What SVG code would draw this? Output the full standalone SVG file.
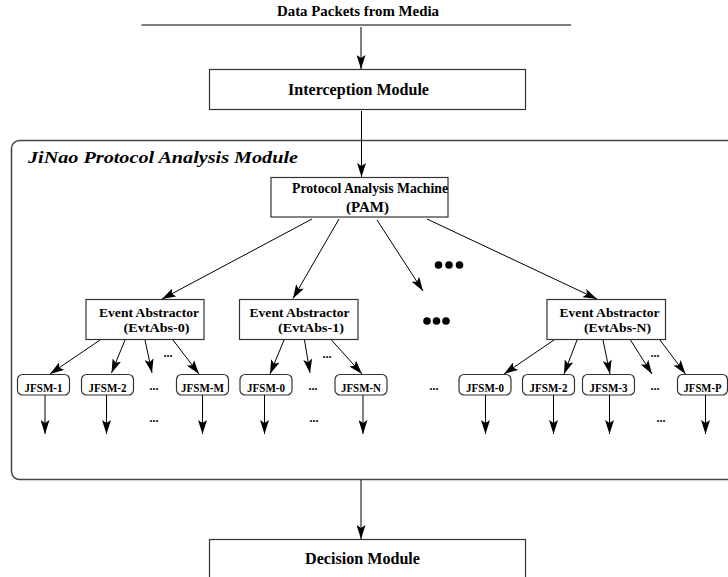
<svg xmlns="http://www.w3.org/2000/svg" width="728" height="577" viewBox="0 0 728 577">
<defs>
<marker id="ah" markerUnits="userSpaceOnUse" markerWidth="15" markerHeight="9" refX="14" refY="4.5" orient="auto">
<path d="M0,0 L14,4.5 L0,9 L3,4.5 z" fill="#000"/>
</marker>
<style>
text{font-family:"Liberation Serif","Times New Roman",serif;font-weight:bold;fill:#000}
.box{fill:#fff;stroke:#333;stroke-width:1.2}
.j{fill:#fff;stroke:#333;stroke-width:1.2}
.ar{stroke:#000;stroke-width:1;fill:none;marker-end:url(#ah)}
.t16{font-size:16px}
.t14{font-size:14px}
.t13{font-size:13px}
.t12{font-size:12px}
.dot{fill:#000}
</style>
</defs>
<rect width="728" height="577" fill="#fff"/>

<g id="outer">
<rect x="11.5" y="140.5" width="730" height="339" rx="8" fill="none" stroke="#444" stroke-width="1.5"/>
<text x="28" y="163" font-size="17" font-style="italic" textLength="270" lengthAdjust="spacingAndGlyphs">JiNao Protocol Analysis Module</text>
</g>

<g id="media">
<text x="358" y="16" text-anchor="middle" font-size="14" textLength="162" lengthAdjust="spacingAndGlyphs">Data Packets from Media</text>
<line x1="141.5" y1="25" x2="571" y2="25" stroke="#000" stroke-width="1"/>
</g>

<g id="interception">
<rect class="box" x="209.5" y="69.5" width="316" height="40"/>
<text x="358.5" y="95" text-anchor="middle" class="t16" textLength="141" lengthAdjust="spacingAndGlyphs">Interception Module</text>
</g>

<g id="pam">
<rect class="box" x="271" y="177.5" width="177" height="39.5"/>
<text x="292" y="193" class="t14" textLength="156" lengthAdjust="spacingAndGlyphs">Protocol Analysis Machine</text>
<text x="346" y="212" class="t14" textLength="43" lengthAdjust="spacingAndGlyphs">(PAM)</text>
</g>

<g id="ea0">
<rect class="box" x="86" y="299.5" width="118" height="40"/>
<text x="99" y="316.5" class="t13" textLength="100" lengthAdjust="spacingAndGlyphs">Event Abstractor</text>
<text x="123.5" y="332" class="t13" textLength="66" lengthAdjust="spacingAndGlyphs">(EvtAbs-0)</text>
</g>
<g id="ea1">
<rect class="box" x="239.5" y="299.5" width="118.5" height="40"/>
<text x="249.5" y="316.5" class="t13" textLength="100" lengthAdjust="spacingAndGlyphs">Event Abstractor</text>
<text x="278" y="332" class="t13" textLength="66" lengthAdjust="spacingAndGlyphs">(EvtAbs-1)</text>
</g>
<g id="eaN">
<rect class="box" x="547" y="299.5" width="118.5" height="40"/>
<text x="559.5" y="316.5" class="t13" textLength="100" lengthAdjust="spacingAndGlyphs">Event Abstractor</text>
<text x="584" y="332" class="t13" textLength="67" lengthAdjust="spacingAndGlyphs">(EvtAbs-N)</text>
</g>

<g id="dots">
<circle class="dot" cx="438.5" cy="265" r="3.8"/>
<circle class="dot" cx="449" cy="265" r="3.8"/>
<circle class="dot" cx="459.5" cy="265" r="3.8"/>
<circle class="dot" cx="427" cy="321" r="3.8"/>
<circle class="dot" cx="436.5" cy="321" r="3.8"/>
<circle class="dot" cx="446" cy="321" r="3.8"/>
</g>

<g id="jfsm-1"><rect class="j" x="17.5" y="374.5" width="52" height="20.5" rx="5"/><text x="43.5" y="392" text-anchor="middle" class="t12" textLength="38" lengthAdjust="spacingAndGlyphs">JFSM-1</text></g>
<g id="jfsm-2"><rect class="j" x="81.5" y="374.5" width="52" height="20.5" rx="5"/><text x="107.5" y="392" text-anchor="middle" class="t12" textLength="38" lengthAdjust="spacingAndGlyphs">JFSM-2</text></g>
<g id="jfsm-M"><rect class="j" x="176.5" y="374.5" width="52" height="20.5" rx="5"/><text x="202.5" y="392" text-anchor="middle" class="t12" textLength="43" lengthAdjust="spacingAndGlyphs">JFSM-M</text></g>
<g id="jfsm-0a"><rect class="j" x="240" y="374.5" width="52" height="20.5" rx="5"/><text x="266" y="392" text-anchor="middle" class="t12" textLength="38" lengthAdjust="spacingAndGlyphs">JFSM-0</text></g>
<g id="jfsm-N"><rect class="j" x="335" y="374.5" width="52" height="20.5" rx="5"/><text x="361" y="392" text-anchor="middle" class="t12" textLength="40" lengthAdjust="spacingAndGlyphs">JFSM-N</text></g>
<g id="jfsm-0b"><rect class="j" x="459" y="374.5" width="52" height="20.5" rx="5"/><text x="485" y="392" text-anchor="middle" class="t12" textLength="38" lengthAdjust="spacingAndGlyphs">JFSM-0</text></g>
<g id="jfsm-2b"><rect class="j" x="522.5" y="374.5" width="52" height="20.5" rx="5"/><text x="548.5" y="392" text-anchor="middle" class="t12" textLength="38" lengthAdjust="spacingAndGlyphs">JFSM-2</text></g>
<g id="jfsm-3"><rect class="j" x="582.5" y="374.5" width="52" height="20.5" rx="5"/><text x="608.5" y="392" text-anchor="middle" class="t12" textLength="38" lengthAdjust="spacingAndGlyphs">JFSM-3</text></g>
<g id="jfsm-P"><rect class="j" x="677.5" y="374.5" width="50" height="20.5" rx="5"/><text x="702.5" y="392" text-anchor="middle" class="t12" textLength="38" lengthAdjust="spacingAndGlyphs">JFSM-P</text></g>

<g id="ellipses">
<text x="168" y="357" text-anchor="middle" class="t12">...</text>
<text x="327" y="358" text-anchor="middle" class="t12">...</text>
<text x="655" y="357" text-anchor="middle" class="t12">...</text>
<text x="154" y="390" text-anchor="middle" class="t12">...</text>
<text x="313" y="390" text-anchor="middle" class="t12">...</text>
<text x="434" y="390" text-anchor="middle" class="t12">...</text>
<text x="655" y="390" text-anchor="middle" class="t12">...</text>
<text x="154" y="422" text-anchor="middle" class="t12">...</text>
<text x="314" y="422" text-anchor="middle" class="t12">...</text>
<text x="661" y="422" text-anchor="middle" class="t12">...</text>
</g>

<g id="decision">
<rect class="box" x="209.5" y="539.5" width="316" height="45"/>
<text x="362.5" y="564" text-anchor="middle" class="t16" textLength="115" lengthAdjust="spacingAndGlyphs">Decision Module</text>
</g>

<g id="connectors">
<line class="ar" x1="361" y1="27" x2="361" y2="69"/>
<line class="ar" x1="361.5" y1="111" x2="361.5" y2="177"/>
<line class="ar" x1="312" y1="219" x2="162" y2="299"/>
<line class="ar" x1="339" y1="219" x2="293" y2="298.5"/>
<line class="ar" x1="377" y1="220" x2="423" y2="291"/>
<line class="ar" x1="427" y1="219" x2="597" y2="299"/>

<line class="ar" x1="100" y1="340" x2="50" y2="374"/>
<line class="ar" x1="125" y1="340" x2="111.5" y2="373"/>
<line class="ar" x1="145" y1="340" x2="152" y2="373"/>
<line class="ar" x1="173" y1="340" x2="199" y2="374"/>

<line class="ar" x1="284" y1="340" x2="270" y2="374"/>
<line class="ar" x1="304.5" y1="340" x2="310" y2="373"/>
<line class="ar" x1="331.5" y1="340" x2="362" y2="374"/>

<line class="ar" x1="554" y1="340" x2="504" y2="374"/>
<line class="ar" x1="577" y1="340" x2="564" y2="374"/>
<line class="ar" x1="603" y1="340" x2="610" y2="374"/>
<line class="ar" x1="630.5" y1="340" x2="652" y2="374"/>
<line class="ar" x1="660" y1="340" x2="685.5" y2="374"/>

<line class="ar" x1="45" y1="395" x2="45" y2="434"/>
<line class="ar" x1="106.5" y1="395" x2="106.5" y2="434"/>
<line class="ar" x1="202.5" y1="395" x2="202.5" y2="434"/>
<line class="ar" x1="264.5" y1="395" x2="264.5" y2="434"/>
<line class="ar" x1="363" y1="395" x2="363" y2="434"/>
<line class="ar" x1="485.5" y1="395" x2="485.5" y2="434"/>
<line class="ar" x1="553.5" y1="395" x2="553.5" y2="434"/>
<line class="ar" x1="609.5" y1="395" x2="609.5" y2="434"/>
<line class="ar" x1="705.5" y1="395" x2="705.5" y2="434"/>

<line class="ar" x1="361" y1="480" x2="361" y2="539"/>
</g>
</svg>
